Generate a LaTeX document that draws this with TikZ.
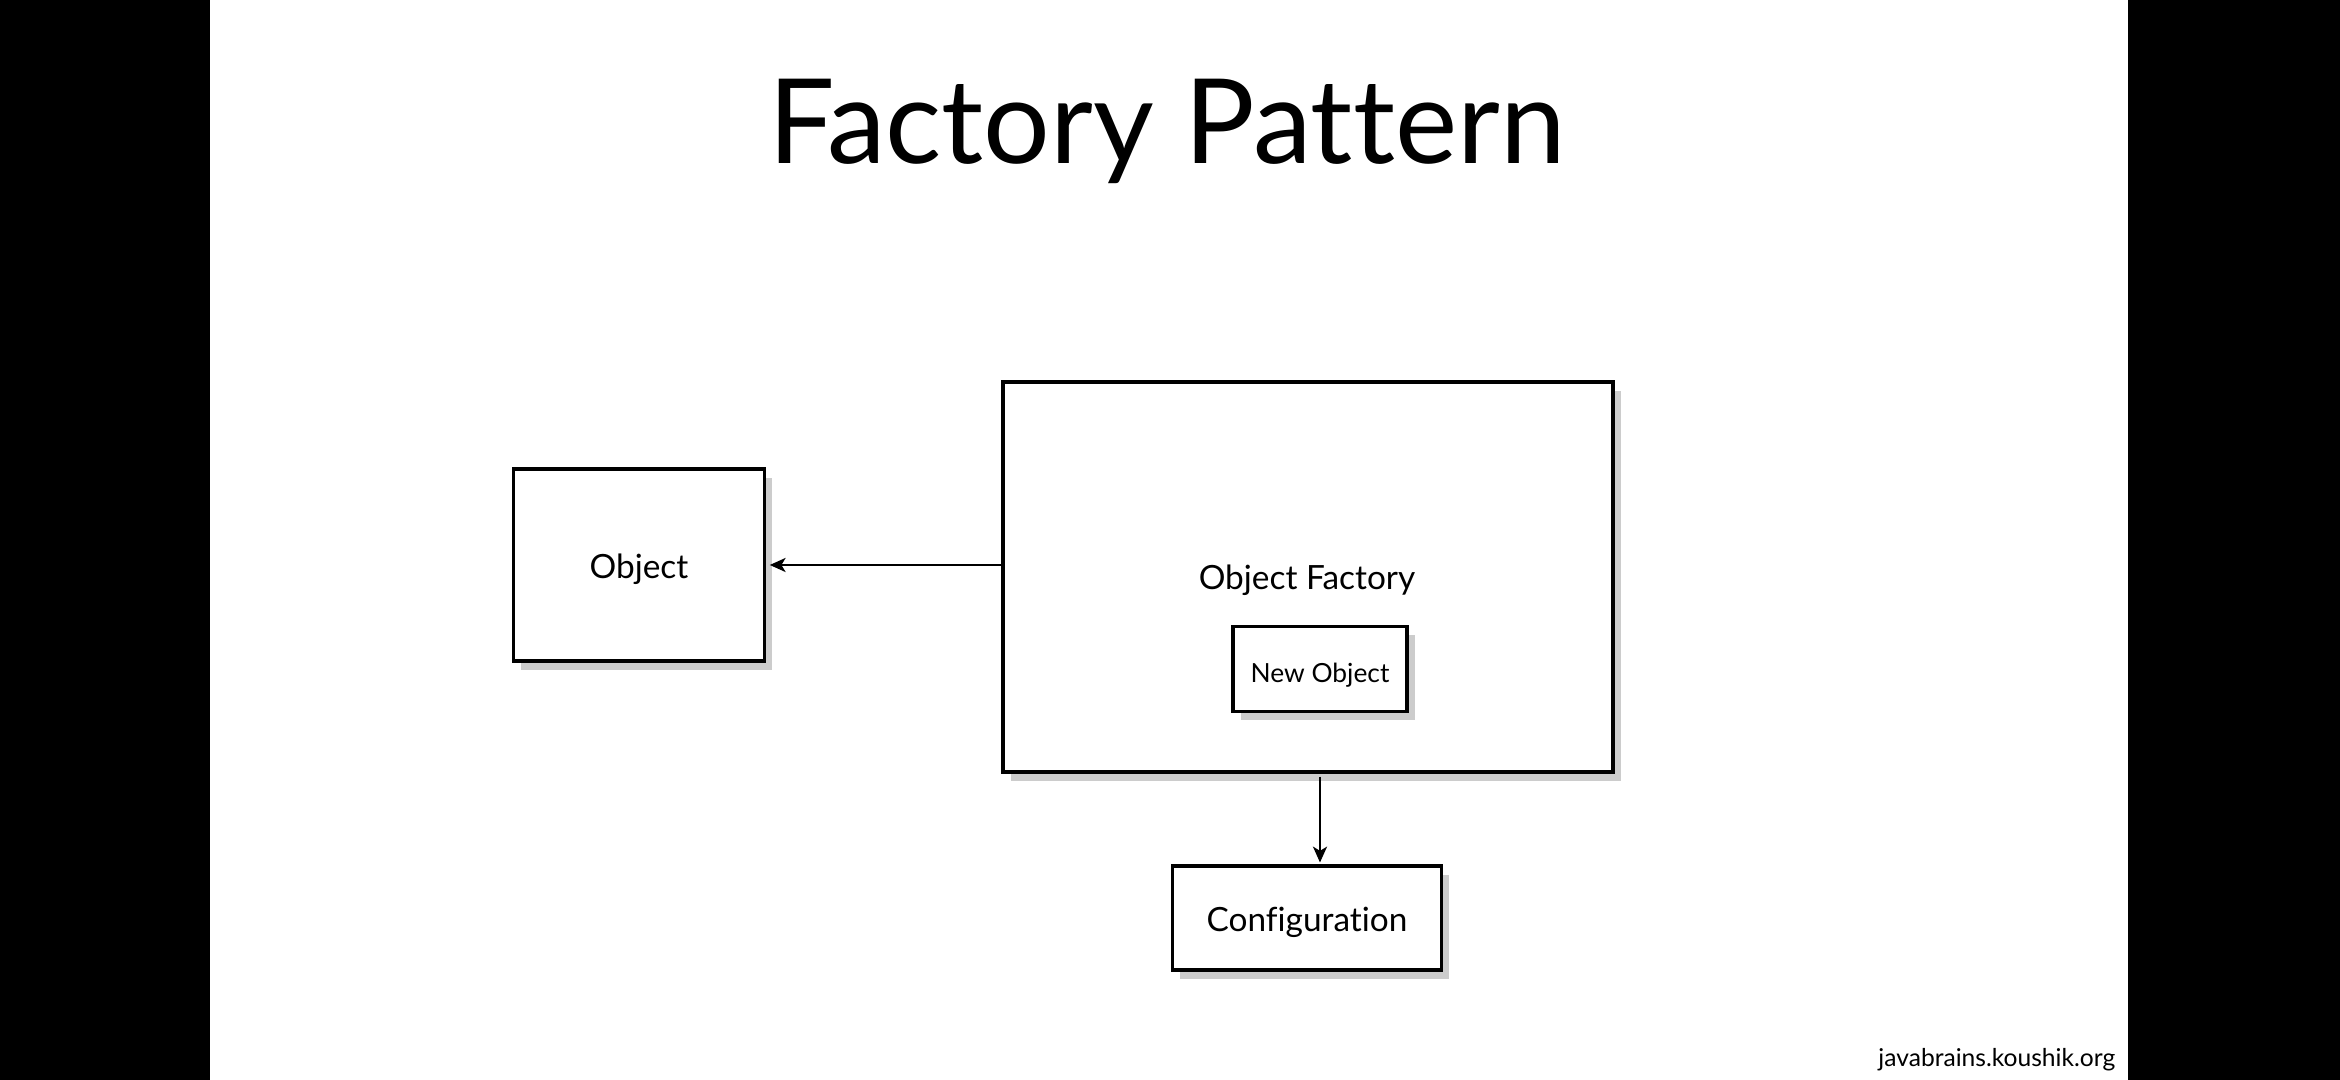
\documentclass[tikz,border=0pt]{standalone}
\usepackage{fontspec}
\setmainfont{Lato}[Ligatures={NoCommon}]
\usetikzlibrary{arrows.meta,shadows}

\tikzset{
  box/.style={draw=black, line width=0.9pt, fill=white, inner sep=0pt, outer sep=0pt,
    font=\fontsize{9.5}{11}\selectfont, text height=0.95em, text depth=0.2em,
    drop shadow={shadow xshift=2.2pt, shadow yshift=-2.5pt, fill=black!50, opacity=0.4}},
  flow/.style={line width=0.6pt, -{Stealth[length=4.5pt, width=4pt, inset=1.2pt]}}
}

\begin{document}
\begin{tikzpicture}
% Slide frame (black bars left and right)
\fill[black] (0,0) rectangle (23.4,10.8);
\fill[white] (2.10,0) rectangle (21.28,10.8);
\useasboundingbox (0,0) rectangle (23.4,10.8);

% Title
\node[anchor=base, font=\fontsize{33.5}{40}\selectfont] (title) at (11.67, 9.16) {Factory Pattern};

% Boxes
\node[box, minimum width=2.51cm, minimum height=1.92cm] (obj) at (6.39, 5.15) {Object};
\node[box, minimum width=6.10cm, minimum height=3.90cm] (factory) at (13.08, 5.03) {};
\node[font=\fontsize{9.5}{11}\selectfont, text height=0.95em, text depth=0.2em] (factorylbl) at (13.07, 5.04) {Object Factory};
\node[box, minimum width=1.74cm, minimum height=0.85cm, font=\fontsize{7.5}{9}\selectfont] (newobj) at (13.20, 4.11) {New Object};
\node[box, minimum width=2.69cm, minimum height=1.04cm] (config) at (13.07, 1.62) {Configuration};

% Connectors
\draw[flow, shorten >=1.5pt] (factory.west |- obj.east) -- (obj.east);
\draw[flow, shorten <=1.3pt, shorten >=1pt] (factory.south -| newobj.south) -- (config.north -| newobj.south);

% Footer
\node[anchor=base east, inner sep=0pt, font=\fontsize{7}{8}\selectfont] (footer) at (21.16, 0.13) {javabrains.koushik.org};
\end{tikzpicture}
\end{document}
